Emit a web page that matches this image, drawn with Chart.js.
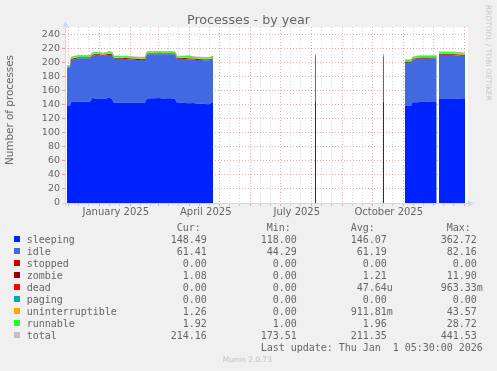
<!DOCTYPE html>
<html>
<head>
<meta charset="utf-8">
<title>Processes - by year</title>
<script src="https://cdn.jsdelivr.net/npm/chart.js@4/dist/chart.umd.min.js"></script>
<style>
body { margin: 0; background: #f0f0f0; }
#wrap { position: relative; width: 497px; height: 371px; overflow: hidden; }
#c { position: absolute; left: 0; top: 0; }
.txt { position: absolute; font-family: 'DejaVu Sans', sans-serif; color: #666; white-space: nowrap; }
#title { left: 0; width: 497px; top: 13.6px; font-size: 12.7px; line-height: 1; text-align: center; }
#ytitle { left: -61px; top: 104px; width: 140px; height: 12px; line-height: 12px; font-size: 10.4px; text-align: center; transform: rotate(-90deg); }
#rrd { left: 428px; top: 48px; width: 120px; height: 10px; line-height: 10px; font-size: 7.45px; text-align: center; color: #c8c8c8; transform: rotate(90deg); }
#legend { position: absolute; left: 26.7px; top: 221.5px; margin: 0; font-family: 'DejaVu Sans Mono', monospace; font-size: 10px; letter-spacing: -0.02px; line-height: 12px; color: #666; white-space: pre; }
.box { position: absolute; left: 14px; width: 6px; height: 6px; }
#munin { left: 0; width: 495px; top: 354.5px; font-size: 7.55px; line-height: 10px; text-align: center; color: #c0c0c0; }
</style>
</head>
<body>
<div id="wrap">
  <canvas id="c" width="497" height="371"></canvas>
  <div id="title" class="txt">Processes - by year</div>
  <div id="ytitle" class="txt">Number of processes</div>
  <div id="rrd" class="txt">RRDTOOL / TOBI OETIKER</div>
  <div id="legend"></div>
  <div id="munin" class="txt">Munin 2.0.73</div>
</div>
<script>
// days since the start of the graph (27 Nov 2024), null = no data
var days = [2,5,6,9,13,17,21,25,28,30, 34,38,42,44,47,49,53,57,61,65,
            69,73,77,80,82,86,90,94,98,102, 106,110,112,116,120,124,128,132,136,140,
            144,147,148,149, 250,251,252, 318,319,320,
            340,346,347.5,352,356,360,364,368,371.7,372.8,
            374,378,382,386,390,394,398,400];

var sleeping = [138.6,138.6,144.7,144.5,145.0,144.6,144.8,144.9,151.0,148.4,
                148.8,148.5,149.6,151.0,148.6,143.3,143.5,143.2,143.6,143.3,
                143.1,143.4,143.0,143.4,149.2,149.8,149.5,150.0,149.4,149.8,
                149.5,149.0,143.5,143.2,142.8,142.6,142.8,142.2,141.8,141.5,
                141.2,143.8,144.0,null, 144.7,144.7,null, 144.7,144.7,null,
                138.6,138.8,143.8,144.0,144.4,144.2,144.5,144.3,144.6,null,
                149.0,149.3,148.8,149.2,148.9,149.0,148.6,148.49];

var idle = [53.8,54.5,59.5,61.0,61.8,62.0,61.8,61.9,59.5,63.0,
            62.6,61.5,61.8,60.5,62.8,62.6,62.4,62.5,62.2,62.0,
            61.6,61.0,61.2,61.0,62.8,62.7,62.9,62.3,63.0,62.6,
            62.8,62.9,62.2,62.4,63.0,62.7,62.0,62.2,62.4,62.3,
            62.6,61.0,61.2,null, 63.3,63.3,null, 63.3,63.3,null,
            61.9,61.7,60.5,62.0,61.8,62.0,61.7,62.0,61.8,null,
            62.4,62.0,62.5,62.1,62.3,61.8,61.5,61.41];

var stopped = [0,0,0,0,0,0,0,0,0,0, 0,0,0,0,0,0,0,0,0,0,
               0,0,0,0,0,0,0,0,0,0, 0,0,0,0,0,0,0,0,0,0,
               0,0,0,null, 0,0,null, 0,0,null,
               0,0,0,0,0,0,0,0,0,null,
               0,0,0,0,0,0,0,0];

var zombie = [0.8,0.8,1.2,1.2,1.2,1.2,1.2,1.2,1.2,1.2,
              1.2,1.2,1.2,1.2,1.2,1.2,1.2,1.2,1.2,1.2,
              1.2,1.2,1.2,1.2,1.2,1.2,1.2,1.2,1.2,1.2,
              1.2,1.2,1.2,1.2,1.2,1.2,1.2,1.2,1.2,1.2,
              1.2,1.2,1.2,null, 1.2,1.2,null, 1.2,1.2,null,
              1.2,1.2,1.2,1.2,1.2,1.2,1.2,1.2,1.2,null,
              1.1,1.1,1.1,1.1,1.1,1.1,1.1,1.08];

var dead = [0,0,0,0,0,0,0,0,0,0, 0,0,0,0,0,0,0,0,0,0,
            0,0,0,0,0,0,0,0,0,0, 0,0,0,0,0,0,0,0,0,0,
            0,0,0,null, 0,0,null, 0,0,null,
            0,0,0,0,0,0,0,0,0,null,
            0,0,0,0,0,0,0,0];

var paging = [0,0,0,0,0,0,0,0,0,0, 0,0,0,0,0,0,0,0,0,0,
              0,0,0,0,0,0,0,0,0,0, 0,0,0,0,0,0,0,0,0,0,
              0,0,0,null, 0,0,null, 0,0,null,
              0,0,0,0,0,0,0,0,0,null,
              0,0,0,0,0,0,0,0];

var uninterruptible = [0.9,0.9,0.9,0.9,0.9,0.9,0.9,0.9,1.0,0.9,
                       0.9,0.9,0.9,1.0,0.9,0.9,0.9,0.9,0.9,0.9,
                       0.9,0.9,0.9,0.9,0.9,0.9,0.9,0.9,0.9,0.9,
                       0.9,0.9,0.9,0.9,0.9,1.0,0.9,0.9,0.9,0.9,
                       0.9,0.9,0.9,null, 0.9,0.9,null, 0.9,0.9,null,
                       0.9,0.9,0.9,0.9,0.9,0.9,0.9,0.9,0.9,null,
                       1.3,1.3,1.3,1.3,1.3,1.3,1.3,1.26];

var runnable = [2.0,2.0,1.9,1.9,1.9,1.9,1.9,1.9,2.6,1.9,
                1.9,1.9,1.9,2.6,1.9,1.9,1.9,1.9,1.9,1.9,
                1.9,1.9,1.9,1.9,1.9,1.9,1.9,1.9,1.9,1.9,
                1.9,1.9,1.9,1.9,1.9,2.8,1.9,1.9,1.9,1.9,
                1.9,2.6,2.6,null, 1.9,1.9,null, 1.9,1.9,null,
                1.9,1.9,1.9,1.9,1.9,1.9,1.9,1.9,1.9,null,
                1.9,1.9,1.9,1.9,1.9,1.9,1.9,1.92];

var total = [196.1,196.8,208.2,209.5,210.8,210.6,210.6,210.8,215.3,215.4,
             215.4,214.0,215.4,216.3,215.4,209.9,209.9,209.7,209.8,209.3,
             208.7,208.4,208.2,208.4,216.0,216.5,216.4,216.3,216.4,216.4,
             216.3,215.9,209.7,209.6,209.8,210.3,208.8,208.4,208.2,207.8,
             207.8,209.5,209.9,null, 212.0,212.0,null, 212.0,212.0,null,
             204.5,204.5,208.3,210.0,210.2,210.2,210.2,210.3,210.4,null,
             215.7,215.6,215.6,215.6,215.5,215.1,214.4,214.16];

// month boundaries (days), month labels
var monthStarts = [3.77,34.77,65.77,93.77,124.77,154.77,185.77,215.77,246.77,277.77,307.77,338.77,368.77,399.77];
var labelMonths = [1,4,7,10];
var labelTexts = ['January 2025','April 2025','July 2025','October 2025'];

// legend table
var names = ['sleeping','idle','stopped','zombie','dead','paging','uninterruptible','runnable','total'];
var colors = ['#0022ff','#4169e1','#cc0000','#990000','#ff0000','#00aaaa','#ffa500','#22ff22','#c0c0c0'];
var curVals = ['148.49','61.41','0.00','1.08','0.00','0.00','1.26','1.92','214.16'];
var minVals = ['118.00','44.29','0.00','0.00','0.00','0.00','0.00','1.00','173.51'];
var avgVals = ['146.07','61.19','0.00','1.21','47.64u','0.00','911.81m','1.96','211.35'];
var maxVals = ['362.72','82.16','0.00','11.90','963.33m','0.00','43.57','28.72','441.53'];
var lastUpdate = 'Last update: Thu Jan  1 05:30:00 2026';

var minorDays = [];
var labelDays = [];
for (var i = 0; i < monthStarts.length; i++) {
    if (monthStarts[i] + 10 < 400) minorDays.push(monthStarts[i] + 10);
    if (monthStarts[i] + 20 < 400) minorDays.push(monthStarts[i] + 20);
}
for (var i = 0; i < labelMonths.length; i++) {
    labelDays.push(monthStarts[labelMonths[i]] + 16);
}

var MGRID = 'rgba(200,50,50,0.4)';
var GRID = 'rgba(140,140,140,0.35)';
var AXIS = '#cfd6f8';

function pad(s, n) {
    while (s.length < n) s += ' ';
    return s;
}

function addField(line, val, endCol) {
    var suffix = ' ';
    var last = val.charAt(val.length - 1);
    if (/[a-z]/.test(last)) {
        suffix = last;
        val = val.substring(0, val.length - 1);
    }
    return pad(line, endCol - val.length) + val + suffix;
}

function buildLegend() {
    var wrap = document.getElementById('wrap');
    var lines = [];
    var head = pad('', 25) + 'Cur:';
    head = pad(head, 40) + 'Min:';
    head = pad(head, 54) + 'Avg:';
    head = pad(head, 70) + 'Max:';
    lines.push(head);
    for (var i = 0; i < names.length; i++) {
        var line = names[i];
        line = addField(line, curVals[i], 30);
        line = addField(line, minVals[i], 45);
        line = addField(line, avgVals[i], 60);
        line = addField(line, maxVals[i], 75);
        lines.push(line);
        var box = document.createElement('div');
        box.className = 'box';
        box.style.top = (224.3 + 12 * (i + 1)) + 'px';
        box.style.background = colors[i];
        wrap.appendChild(box);
    }
    lines.push(pad('', 39) + lastUpdate);
    document.getElementById('legend').textContent = lines.join('\n');
}

var muninPlugin = {
    id: 'munin',
    beforeDraw: function(chart) {
        var ctx = chart.ctx;
        var a = chart.chartArea;
        ctx.save();
        ctx.fillStyle = '#f0f0f0';
        ctx.fillRect(0, 0, chart.width, chart.height);
        ctx.fillStyle = '#ffffff';
        ctx.fillRect(a.left, a.top, a.right - a.left + 3, a.bottom - a.top);
        ctx.restore();
    },
    afterDraw: function(chart) {
        var ctx = chart.ctx;
        var a = chart.chartArea;
        ctx.save();
        ctx.strokeStyle = AXIS;
        ctx.fillStyle = AXIS;
        ctx.lineWidth = 1;
        ctx.beginPath();
        ctx.moveTo(a.left - 3, a.bottom + 0.5);
        ctx.lineTo(a.right + 3, a.bottom + 0.5);
        ctx.moveTo(a.left + 0.5, a.bottom + 3);
        ctx.lineTo(a.left + 0.5, a.top - 1);
        ctx.stroke();
        ctx.beginPath();
        ctx.moveTo(a.right + 9, a.bottom + 0.5);
        ctx.lineTo(a.right + 3, a.bottom - 2.5);
        ctx.lineTo(a.right + 3, a.bottom + 3.5);
        ctx.closePath();
        ctx.fill();
        ctx.beginPath();
        ctx.moveTo(a.left + 0.5, a.top - 6);
        ctx.lineTo(a.left - 2.5, a.top);
        ctx.lineTo(a.left + 3.5, a.top);
        ctx.closePath();
        ctx.fill();
        ctx.restore();
    }
};

function makeDatasets() {
    var list = [sleeping, idle, stopped, zombie, dead, paging, uninterruptible, runnable];
    var ds = [];
    for (var i = 0; i < list.length; i++) {
        ds.push({
            label: names[i],
            data: list[i],
            backgroundColor: colors[i],
            borderColor: colors[i],
            borderWidth: 0,
            fill: i === 0 ? 'origin' : '-1',
            pointRadius: 0,
            spanGaps: false
        });
    }
    ds.push({
        label: 'total',
        data: total,
        stack: 'sum',
        borderColor: colors[8],
        borderWidth: 1,
        fill: false,
        pointRadius: 0,
        spanGaps: false
    });
    return ds;
}

buildLegend();

var ctx = document.getElementById('c');
new Chart(ctx, {
    type: 'line',
    data: {
        labels: days,
        datasets: makeDatasets()
    },
    options: {
        animation: false,
        responsive: false,
        devicePixelRatio: 1,
        layout: { padding: { left: 0, top: 27, right: 32, bottom: 148 } },
        plugins: { legend: { display: false }, tooltip: { enabled: false }, title: { display: false } },
        elements: { line: { tension: 0 } },
        scales: {
            x: {
                type: 'linear',
                min: 0,
                max: 400,
                z: 1,
                afterBuildTicks: function(scale) {
                    var t = monthStarts.concat(minorDays, labelDays).sort(function(a, b) { return a - b; });
                    scale.ticks = t.map(function(v) { return { value: v }; });
                },
                afterFit: function(scale) { scale.height = 20; },
                ticks: {
                    autoSkip: false,
                    maxRotation: 0,
                    padding: 0,
                    color: '#666',
                    font: { family: 'DejaVu Sans', size: 10 },
                    callback: function(v) {
                        var k = labelDays.indexOf(v);
                        return k >= 0 ? labelTexts[k] : '';
                    }
                },
                grid: {
                    tickLength: 3,
                    color: function(c) {
                        var v = c.tick ? c.tick.value : null;
                        if (monthStarts.indexOf(v) >= 0) return MGRID;
                        if (minorDays.indexOf(v) >= 0) return GRID;
                        return 'rgba(0,0,0,0)';
                    }
                },
                border: { display: false, dash: [1, 2] }
            },
            y: {
                stacked: true,
                min: 0,
                max: 251.4,
                z: 1,
                afterBuildTicks: function(scale) {
                    scale.ticks = scale.ticks.filter(function(t) { return t.value % 10 === 0 && t.value <= 250; });
                },
                afterFit: function(scale) { scale.width = 65; },
                ticks: {
                    stepSize: 10,
                    padding: 2,
                    color: '#666',
                    font: { family: 'DejaVu Sans', size: 9.5 },
                    callback: function(v) { return v % 20 === 0 ? String(v) : ''; }
                },
                grid: {
                    tickLength: 3,
                    color: function(c) {
                        var v = c.tick ? c.tick.value : null;
                        if (v === 0) return 'rgba(0,0,0,0)';
                        return v % 20 === 0 ? MGRID : GRID;
                    }
                },
                border: { display: false, dash: [1, 2] }
            }
        }
    },
    plugins: [muninPlugin]
});
</script>
</body>
</html>
